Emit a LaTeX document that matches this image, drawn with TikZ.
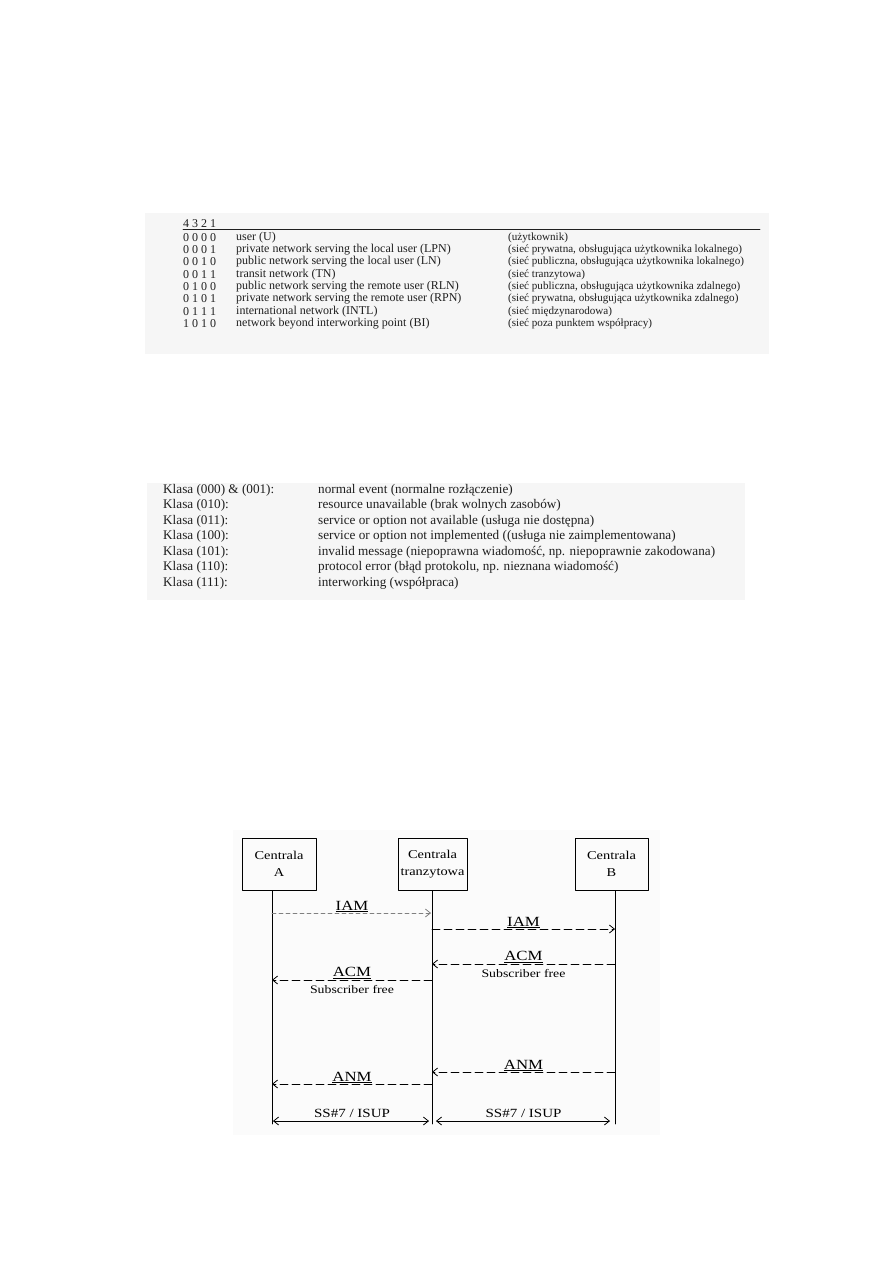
\documentclass[tikz,border=0pt]{standalone}
\usepackage{fontspec}
\setmainfont{Liberation Serif}
\newfontfamily\seqfont[FakeStretch=1.2]{Liberation Serif}
\usetikzlibrary{arrows.meta}
\definecolor{scanbg}{gray}{0.965}
\definecolor{diagbg}{gray}{0.985}
\definecolor{ink}{gray}{0.12}
\begin{document}
\begin{tikzpicture}[x=1pt,y=-1pt, line join=round, line cap=round,
	>={Straight Barb[length=5pt,width=8pt]},
	tab/.style={anchor=west,inner sep=0pt,text=ink,font=\fontsize{12}{14}\selectfont},
	pltab/.style={tab,font=\fontsize{11.1}{13}\selectfont},
	klasa/.style={tab,font=\fontsize{13.2}{15}\selectfont},
	seqbox/.style={draw,line width=0.8pt,minimum width=74pt,minimum height=52pt,inner sep=1pt,
		align=center,font=\seqfont\fontsize{12}{17}\selectfont},
	msg/.style={->,line width=0.8pt,dash pattern=on 8pt off 4pt},
	lbl/.style={above,inner sep=0.5pt,font=\seqfont\fontsize{14}{16}\selectfont},
	sub/.style={below,inner sep=1pt,yshift=-4pt,font=\seqfont\fontsize{11.5}{13}\selectfont},
	sslbl/.style={above,inner sep=1pt,yshift=2pt,font=\seqfont\fontsize{12.5}{14}\selectfont}]
	\useasboundingbox (0,0) rectangle (893,1263);
	\def\xa{272} \def\xt{432} \def\xb{615} % linie zycia
	% tabela 1
	\fill[scanbg] (145,213) rectangle (769,354);
	\node[tab] (hdr) at (183,224) {4 3 2 1};
	\coordinate (rulend) at (760,229);
	\coordinate (rulbeg) at (hdr.west |- rulend);
	\draw[ink,line width=0.9pt] (rulbeg) -- (rulend);
	\foreach \y/\b/\e/\p [count=\i] in {
		238/0 0 0 0/user (U)/(użytkownik),
		250/0 0 0 1/private network serving the local user (LPN)/{(sieć prywatna, obsługująca użytkownika lokalnego)},
		262/0 0 1 0/public network serving the local user (LN)/{(sieć publiczna, obsługująca użytkownika lokalnego)},
		275/0 0 1 1/transit network (TN)/(sieć tranzytowa),
		287/0 1 0 0/public network serving the remote user (RLN)/{(sieć publiczna, obsługująca użytkownika zdalnego)},
		299/0 1 0 1/private network serving the remote user (RPN)/{(sieć prywatna, obsługująca użytkownika zdalnego)},
		312/0 1 1 1/international network (INTL)/(sieć międzynarodowa),
		324/1 0 1 0/network beyond interworking point (BI)/(sieć poza punktem współpracy)}{
		\node[tab] (bit\i) at (183,\y) {\b};
		\node[tab] (en\i) at (236,\y) {\e};
		\node[pltab] (pl\i) at (508,\y) {\p};
	}
	% tabela 2
	\fill[scanbg] (147,483) rectangle (745,600);
	\foreach \y/\k/\d [count=\i] in {
		490/Klasa (000) \& (001):/normal event (normalne rozłączenie),
		505.5/Klasa (010):/resource unavailable (brak wolnych zasobów),
		521/Klasa (011):/service or option not available (usługa nie dostępna),
		536.5/Klasa (100):/service or option not implemented ((usługa nie zaimplementowana),
		552/Klasa (101):/{invalid message (niepoprawna wiadomość, np. niepoprawnie zakodowana)},
		567.5/Klasa (110):/{protocol error (błąd protokolu, np. nieznana wiadomość)},
		583/Klasa (111):/interworking (współpraca)}{
		\node[klasa] (kl\i) at (163,\y) {\k};
		\node[klasa] (op\i) at (318,\y) {\d};
	}
	% diagram
	\fill[diagbg] (233,830) rectangle (660,1135);
	\node[seqbox] (ca) at (279,864) {Centrala\\A};
	\node[seqbox,minimum width=69pt] (ct) at (432.5,864) {Centrala\\tranzytowa};
	\node[seqbox,minimum width=73pt] (cb) at (611.5,864) {Centrala\\B};
	\foreach \n/\y in {iam1/913,iam2/929,acm1/964,acm2/980,anm1/1072,anm2/1084,ss/1121,end/1124}{
		\coordinate (a-\n) at (\xa,\y);
		\coordinate (t-\n) at (\xt,\y);
		\coordinate (b-\n) at (\xb,\y);
	}
	\draw[line width=0.8pt] (ca.south -| a-end) -- (a-end);
	\draw[line width=0.8pt] (ct.south -| t-end) -- (t-end);
	\draw[line width=0.8pt] (cb.south -| b-end) -- (b-end);
	\draw[msg,gray,dash pattern=on 4pt off 3pt,shorten >=1pt] (a-iam1) -- node[lbl,text=black]{\underline{IAM}} (t-iam1);
	\draw[msg] (t-iam2) -- node[lbl]{\underline{IAM}} (b-iam2);
	\draw[msg] (b-acm1) -- node[lbl]{\underline{ACM}} node[sub]{Subscriber free} (t-acm1);
	\draw[msg] (t-acm2) -- node[lbl]{\underline{ACM}} node[sub]{Subscriber free} (a-acm2);
	\draw[msg] (b-anm1) -- node[lbl]{\underline{ANM}} (t-anm1);
	\draw[msg] (t-anm2) -- node[lbl]{\underline{ANM}} (a-anm2);
	\draw[<->,line width=0.8pt,shorten <=1pt,shorten >=3pt] (a-ss) -- node[sslbl]{SS\#7 / ISUP} (t-ss);
	\draw[<->,line width=0.8pt,shorten <=4pt,shorten >=5pt] (t-ss) -- node[sslbl]{SS\#7 / ISUP} (b-ss);
\end{tikzpicture}
\end{document}
